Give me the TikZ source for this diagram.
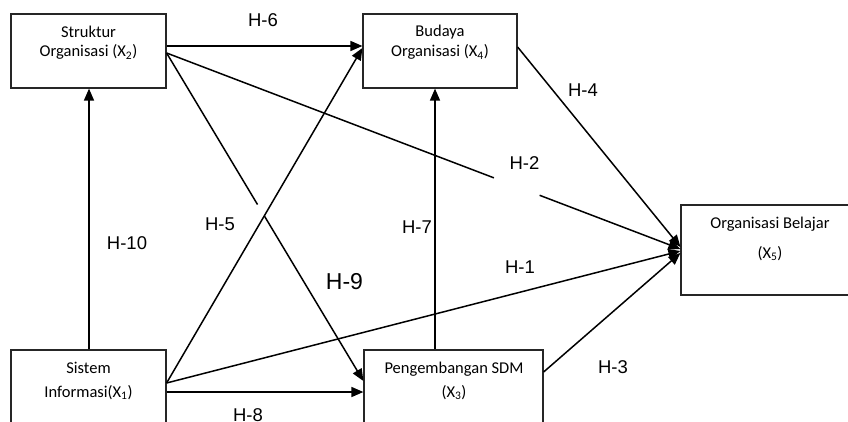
\documentclass[tikz,border=0pt]{standalone}
\usepackage{fontspec}
\setmainfont{Carlito}
\newfontfamily\labfont{Liberation Sans}
\usetikzlibrary{arrows.meta,calc}
\tikzset{
  box/.style={draw=black!85, line width=1.2pt, inner sep=0pt, anchor=center},
  boxtext/.style={align=center, inner sep=0pt, anchor=base, font=\fontsize{16.5}{19}\selectfont},
  hlab/.style={font=\labfont\fontsize{18.5}{20}\selectfont, inner sep=0pt},
  conn/.style={line width=1.5pt},
  arr/.style={conn, -{Triangle[length=12pt,width=10pt]}},
}
\begin{document}
\begin{tikzpicture}[x=1pt,y=-1pt]
\useasboundingbox[fill=white] (0,0) rectangle (848,422);
% boxes
\node[box, minimum width=155pt, minimum height=74pt] (s) at (88.5,51) {};
\node[box, minimum width=154pt, minimum height=74pt] (b) at (440,51) {};
\node[box, minimum width=178pt, minimum height=90pt] (o) at (770,250) {};
\node[box, minimum width=155pt, minimum height=74pt] (x1) at (88.5,387) {};
\node[box, minimum width=179pt, minimum height=74pt] (p) at (453.5,387) {};
% box texts
\node[boxtext] (ts1) at (88.5,38) {Struktur};
\node[boxtext] (ts2) at (88.5,57) {Organisasi (X\textsubscript{2})};
\node[boxtext] (tb1) at (440,37) {Budaya};
\node[boxtext] (tb2) at (440,57) {Organisasi (X\textsubscript{4})};
\node[boxtext] (to1) at (770,228) {Organisasi Belajar};
\node[boxtext] (to2) at (770,258) {(X\textsubscript{5})};
\node[boxtext] (tx1) at (88.5,373) {Sistem};
\node[boxtext] (tx2) at (88.5,397) {Informasi(X\textsubscript{1})};
\node[boxtext] (tp1) at (454,373) {Pengembangan SDM};
\node[boxtext] (tp2) at (454,397) {(X\textsubscript{3})};
% endpoint coordinates
\coordinate (sA) at ([yshift=5pt]s.east);
\coordinate (sB) at ([yshift=-2pt]s.east);
\coordinate (sS) at ([xshift=0.5pt]s.south);
\coordinate (xN) at ([xshift=0.5pt]x1.north);
\coordinate (bA) at ([yshift=5pt]b.west);
\coordinate (bB) at ([yshift=3pt]b.west);
\coordinate (bE) at ([yshift=4pt]b.east);
\coordinate (bS) at ([xshift=-5pt]b.south);
\coordinate (xA) at ([yshift=4pt]x1.east);
\coordinate (xB) at ([yshift=-5pt]x1.east);
\coordinate (pA) at ([yshift=-5pt]p.west);
\coordinate (pB) at ([yshift=6pt]p.west);
\coordinate (pE) at ([yshift=15pt]p.east);
\coordinate (pN) at (p.north -| bS);
\coordinate (o1) at ([yshift=1pt]o.west);
\coordinate (o2) at ([yshift=3pt]o.west);
\coordinate (o3) at ([yshift=-1pt]o.west);
\coordinate (o4) at ([yshift=-3pt]o.west);
% connectors
\draw[arr] (sA) -- (bA);
\draw[arr] (xN) -- (sS);
\draw[conn] (sB) -- ($(sB)!0.637!(o1)$);
\draw[arr] ($(sB)!0.726!(o1)$) -- (o1);
\draw[arr] (bE) -- (o2);
\draw[arr] (xA) -- (o3);
\draw[arr] (pE) -- (o4);
\draw[conn] (sB) -- ($(sB)!0.462!(pB)$);
\draw[arr] ($(sB)!0.497!(pB)$) -- (pB);
\draw[arr] (xA) -- (bB);
\draw[arr] (pN) -- (bS);
\draw[arr] (xB) -- (pA);
% labels
\node[hlab] (h6) at (263,20) {H-6};
\node[hlab] (h4) at (583,90) {H-4};
\node[hlab] (h2) at (524.5,163.5) {H-2};
\node[hlab] (h7) at (417,227) {H-7};
\node[hlab] (h5) at (220,224) {H-5};
\node[hlab] (h10) at (127,243) {H-10};
\node[hlab, font=\labfont\fontsize{23}{25}\selectfont] (h9) at (344.5,281.5) {H-9};
\node[hlab] (h1) at (520,267) {H-1};
\node[hlab] (h3) at (613,367) {H-3};
\node[hlab] (h8) at (248,415) {H-8};
\end{tikzpicture}
\end{document}
